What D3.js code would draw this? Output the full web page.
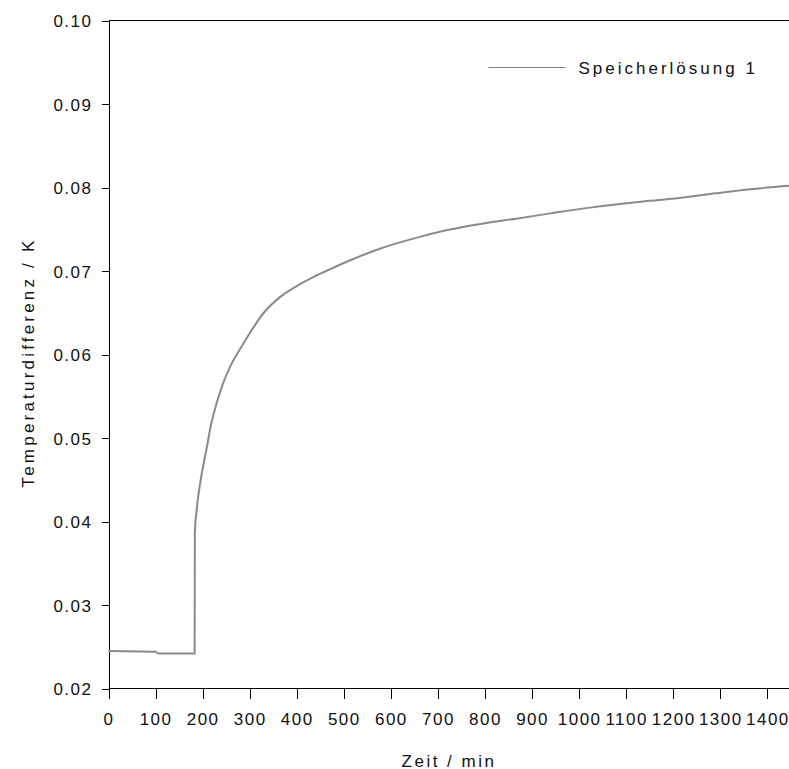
<!DOCTYPE html>
<html>
<head>
<meta charset="utf-8">
<script src="https://cdn.jsdelivr.net/npm/d3@7"></script>
<style>
  body { margin: 0; background: #fff; }
  text { font-family: "Liberation Sans", Arial, sans-serif; fill: #111; }
  .axis path, .axis line { stroke: #000; shape-rendering: crispEdges; }
  .axis text { font-size: 17px; letter-spacing: 1.5px; }
</style>
</head>
<body>
<div id="viz"></div>
<script>

var timeMin = [0, 100, 105, 183, 183.5, 187, 196, 203, 210, 216, 223, 240, 259, 280, 295, 330, 365, 400, 436, 470, 510, 578, 656, 720, 797, 870, 939, 1010, 1081, 1150, 1222, 1290, 1364, 1447];
var tempDiff = [0.0245, 0.0244, 0.0242, 0.0242, 0.0387, 0.0412, 0.0450, 0.0472, 0.0492, 0.0511, 0.0528, 0.0560, 0.0586, 0.0607, 0.0621, 0.0650, 0.0669, 0.0682, 0.0693, 0.0702, 0.0712, 0.0727, 0.0740, 0.0749, 0.0757, 0.0763, 0.0769, 0.0775, 0.0780, 0.0784, 0.0788, 0.0793, 0.0798, 0.0802];
var xTicks = [0, 100, 200, 300, 400, 500, 600, 700, 800, 900, 1000, 1100, 1200, 1300, 1400];
var yTicks = [0.02, 0.03, 0.04, 0.05, 0.06, 0.07, 0.08, 0.09, 0.10];
var seriesName = "Speicherlösung 1";

var W = 789, H = 769,
    margin = {top: 20, right: 0, bottom: 80, left: 108},
    width = W - margin.left - margin.right,
    height = H - margin.top - margin.bottom;

var svg = d3.select("#viz").append("svg")
        .attr("width", W)
        .attr("height", H)
    .append("g")
        .attr("transform", "translate(" + (margin.left + 0.5) + "," + (margin.top + 0.5) + ")");

var x = d3.scaleLinear().domain([0, 1447]).range([0, width]),
    y = d3.scaleLinear().domain([0.02, 0.10]).range([height - 1, 0]);

var data = timeMin.map(function(t, i){ return {t: t, v: tempDiff[i]}; });

// top frame line
svg.append("line")
    .attr("x1", 0).attr("x2", width)
    .attr("y1", 0).attr("y2", 0)
    .attr("stroke", "#000")
    .attr("shape-rendering", "crispEdges");

// axes
svg.append("g")
    .attr("class", "axis")
    .attr("transform", "translate(0," + (height - 1) + ")")
    .call(d3.axisBottom(x).tickValues(xTicks).tickFormat(d3.format("d")).tickSize(10).tickSizeOuter(0).tickPadding(14))
    .call(function(g){ g.select(".domain").attr("d", "M0,0H" + width); });

svg.append("g")
    .attr("class", "axis")
    .call(d3.axisLeft(y).tickValues(yTicks).tickFormat(d3.format(".2f")).tickSize(7).tickSizeOuter(0).tickPadding(9))
    .call(function(g){ g.selectAll(".tick text").attr("dy", "0.36em"); });

// data line
svg.append("path")
    .datum(data)
    .attr("fill", "none")
    .attr("stroke", "#8a8a8a")
    .attr("stroke-width", 2)
    .attr("d", d3.line()
        .x(function(d){ return x(d.t); })
        .y(function(d){ return y(d.v); })
        .curve(d3.curveMonotoneX));

// legend
var legend = svg.append("g")
    .attr("transform", "translate(" + (488 - margin.left) + "," + (67 - margin.top) + ")");
legend.append("line")
    .attr("x1", 0).attr("x2", 77)
    .attr("y1", 0).attr("y2", 0)
    .attr("stroke", "#808080")
    .attr("stroke-width", 1);
legend.append("text")
    .attr("x", 90)
    .attr("y", 6)
    .style("font-size", "17px")
    .style("letter-spacing", "3px")
    .text(seriesName);

// axis titles
svg.append("text")
    .attr("x", width / 2)
    .attr("y", 766 - margin.top)
    .attr("text-anchor", "middle")
    .style("font-size", "17px")
    .style("letter-spacing", "2.5px")
    .text("Zeit / min");

svg.append("text")
    .attr("transform", "translate(" + (33 - margin.left) + "," + (362 - margin.top) + ") rotate(-90)")
    .attr("text-anchor", "middle")
    .style("font-size", "17px")
    .style("letter-spacing", "3.2px")
    .text("Temperaturdifferenz / K");

</script>
</body>
</html>
